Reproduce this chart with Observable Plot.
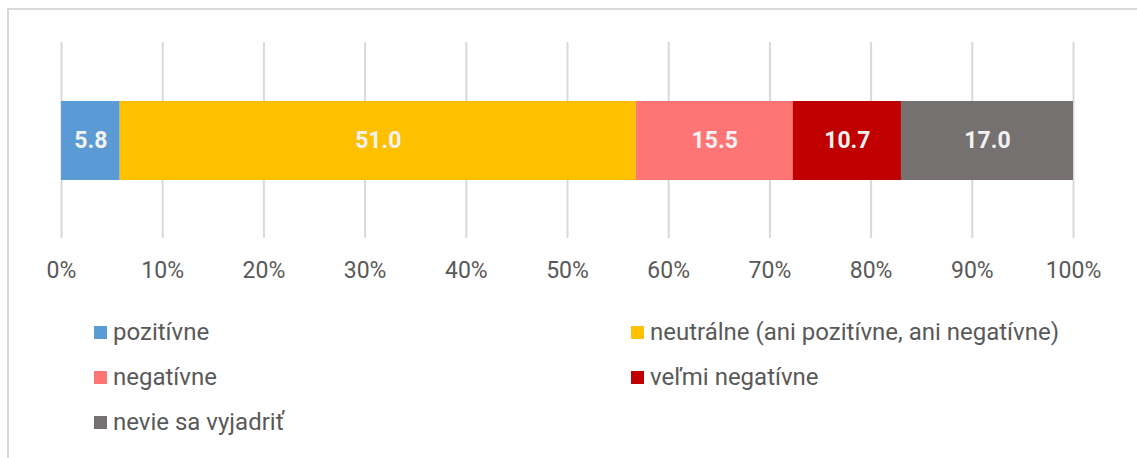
<!DOCTYPE html>
<html>
<head>
<meta charset="utf-8">
<script src="https://cdn.jsdelivr.net/npm/d3@7"></script>
<script src="https://cdn.jsdelivr.net/npm/@observablehq/plot@0.6"></script>
<style>
  html, body { margin: 0; padding: 0; background: #fff; }
  body { width: 1137px; height: 458px; position: relative; overflow: hidden; font-family: Roboto, "Noto Sans", sans-serif; }
  #frame { position: absolute; left: 7px; top: 8px; width: 1150px; height: 470px; border: 2px solid #d9d9d9; box-sizing: border-box; }
  #chart { position: absolute; left: 0; top: 0; }
  .lg { position: absolute; display: flex; align-items: center; font-size: 24px; color: #595959; white-space: nowrap; height: 24px; }
  .lg .sw { width: 13px; height: 13px; margin-right: 6px; flex: none; }
</style>
</head>
<body>
<div id="frame"></div>
<div id="chart"></div>
<div id="legend"></div>
<script>
const categories = ["pozitívne", "neutrálne (ani pozitívne, ani negatívne)", "negatívne", "veľmi negatívne", "nevie sa vyjadriť"];
const values = [5.8, 51.0, 15.5, 10.7, 17.0];
const colors = ["#5b9bd5", "#ffc000", "#ff7575", "#c00000", "#767171"];
const tickValues = [0, 10, 20, 30, 40, 50, 60, 70, 80, 90, 100];
const tickLabels = ["0%", "10%", "20%", "30%", "40%", "50%", "60%", "70%", "80%", "90%", "100%"];

const data = categories.map((c, i) => ({category: c, value: values[i], row: "r"}));

const plot = Plot.plot({
  width: 1137,
  height: 300,
  marginLeft: 61,
  marginRight: 64,
  marginTop: 42,
  marginBottom: 62,
  style: {fontFamily: "Roboto, sans-serif", background: "transparent", overflow: "visible"},
  x: {domain: [0, 100]},
  y: {domain: ["r"], padding: 0.4255, axis: null},
  color: {domain: categories, range: colors},
  marks: [
    Plot.ruleX(tickValues, {x: d => d, stroke: "#d9d9d9", strokeWidth: 2}),
    Plot.barX(data, Plot.stackX({x: "value", y: "row", fill: "category", order: null})),
    Plot.text(data, Plot.stackX({x: "value", y: "row", order: null, text: d => d3.format(".1f")(d.value),
      fill: "#f2f2f2", fontSize: 23, fontWeight: "bold"})),
    Plot.axisX({ticks: tickValues, tickFormat: (d, i) => tickLabels[tickValues.indexOf(d)], tickSize: 0, tickPadding: 23,
      fontSize: 23, fill: "#595959", anchor: "bottom", label: null})
  ]
});
document.getElementById("chart").appendChild(plot);

// legend
const legendPos = [[94, 320], [631, 320], [94, 365], [631, 365], [94, 410]];
const lg = document.getElementById("legend");
categories.forEach((c, i) => {
  const d = document.createElement("div");
  d.className = "lg";
  d.style.left = legendPos[i][0] + "px";
  d.style.top = legendPos[i][1] + "px";
  d.innerHTML = `<span class="sw" style="background:${colors[i]}"></span><span>${c}</span>`;
  lg.appendChild(d);
});
</script>
</body>
</html>
